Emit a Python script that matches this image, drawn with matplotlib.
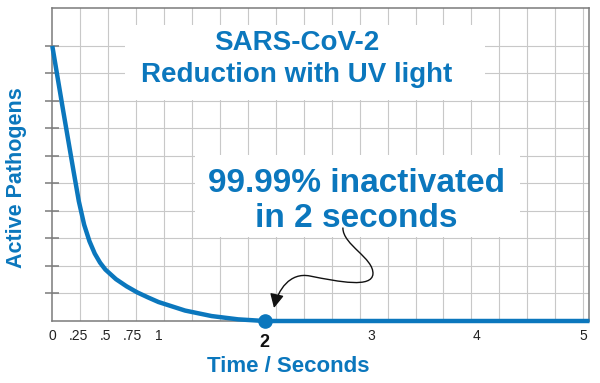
import numpy as np
import matplotlib
matplotlib.use("Agg")
import matplotlib.pyplot as plt
from matplotlib.patches import Rectangle, FancyArrowPatch
from matplotlib.path import Path

# ---- data ----
time_s = [0, 0.1, 0.2, 0.25, 0.3, 0.35, 0.4, 0.45, 0.5, 0.6, 0.7, 0.8,
          0.9, 1.0, 1.25, 1.5, 1.75, 2.0, 5.06]
pathogens = [10, 7.7, 5.45, 4.35, 3.5, 2.9, 2.45, 2.12, 1.87, 1.52, 1.26, 1.04,
             0.86, 0.69, 0.38, 0.18, 0.06, 0.0, 0.0]
marker_time = 2
marker_value = 0
xtick_vals = [0, 0.25, 0.5, 0.75, 1, 3, 4, 5]
xtick_labels = ["0", ".25", ".5", ".75", "1", "3", "4", "5"]
highlight_tick = [2]
highlight_label = ["2"]
title_lines = ["SARS-CoV-2", "Reduction with UV light"]
note_lines = ["99.99% inactivated", "in 2 seconds"]
xlabel = "Time / Seconds"
ylabel = "Active Pathogens"

BLUE = "#0b77bd"
GRID = "#c8c8c8"
FRAME = "#7a7a7a"
plt.rcParams['font.family'] = ['Liberation Sans', 'DejaVu Sans']

fig = plt.figure(figsize=(6.0, 3.83), dpi=100)
ax = fig.add_axes([52.3 / 600, 1 - 321 / 383, (589 - 52.3) / 600, (321 - 8) / 383])
ax.set_xlim(0, 5.055)
ax.set_ylim(0, 11.38)

# grid
for gx in np.linspace(0, 5, 20)[1:]:
    ax.axvline(gx, color=GRID, lw=0.8, zorder=0)
ax.set_yticks(range(1, 11))
ax.set_yticklabels([])
ax.yaxis.grid(True, color=GRID, lw=0.8, zorder=0)
ax.set_axisbelow(True)
ax.tick_params(axis='y', direction='inout', length=9.4, width=1.1, color=FRAME)

ax.set_xticks(xtick_vals)
ax.set_xticklabels(xtick_labels)
ax.tick_params(axis='x', which='major', length=0, pad=5.5, labelsize=10, labelcolor='#222222')
ax.set_xticks(highlight_tick, minor=True)
ax.set_xticklabels(highlight_label, minor=True)
ax.tick_params(axis='x', which='minor', length=0, pad=9.5, labelsize=13, labelcolor='#111111')
for lbl in ax.get_xticklabels(minor=True):
    lbl.set_fontweight('bold')

for sp in ax.spines.values():
    sp.set_color(FRAME)
    sp.set_linewidth(1.1)

# white boxes behind texts
ax.add_patch(Rectangle((0.135, 0.706), 0.806 - 0.135, 0.946 - 0.706, transform=ax.transAxes,
                       facecolor='white', edgecolor='none', zorder=1))
ax.add_patch(Rectangle((0.266, 0.268), 0.871 - 0.266, 0.530 - 0.268, transform=ax.transAxes,
                       facecolor='white', edgecolor='none', zorder=1))

# curve
ax.plot(time_s, pathogens, color=BLUE, lw=3.2, solid_joinstyle='round',
        solid_capstyle='butt', zorder=4, clip_on=False)
ax.plot([marker_time], [marker_value], 'o', color=BLUE, ms=9.5, zorder=5, clip_on=False)

# texts
ax.text(0.456, 0.866, title_lines[0], transform=ax.transAxes, ha='center', va='baseline',
        fontsize=20, fontweight='bold', color=BLUE, zorder=3)
ax.text(0.456, 0.764, title_lines[1], transform=ax.transAxes, ha='center', va='baseline',
        fontsize=20, fontweight='bold', color=BLUE, zorder=3)
ax.text(0.566, 0.413, note_lines[0], transform=ax.transAxes, ha='center', va='baseline',
        fontsize=24, fontweight='bold', color=BLUE, zorder=3)
ax.text(0.566, 0.299, note_lines[1], transform=ax.transAxes, ha='center', va='baseline',
        fontsize=24, fontweight='bold', color=BLUE, zorder=3)

ax.text(-0.066, 0.458, ylabel, transform=ax.transAxes, rotation=90, ha='center', va='center',
        fontsize=15.5, fontweight='bold', color=BLUE)
fig.text(288 / 600, 1 - 366 / 383, xlabel, ha='center', va='center',
         fontsize=16, fontweight='bold', color=BLUE)

# curvy arrow
verts = [(2.737, 3.382), (2.737, 2.764), (3.029, 2.291), (3.020, 1.709),
         (3.010, 1.2), (2.711, 1.418), (2.426, 1.636),
         (2.238, 1.782), (2.125, 1.127), (2.088, 0.473)]
codes = [Path.MOVETO] + [Path.CURVE4] * 9
arrow = FancyArrowPatch(path=Path(verts, codes), transform=ax.transData,
                        arrowstyle='-|>,head_length=0.6,head_width=0.3',
                        mutation_scale=14, color='#111111', lw=1.0,
                        shrinkA=0, shrinkB=0, zorder=6)
ax.add_patch(arrow)

fig.savefig("out.png", dpi=100, facecolor='white')
